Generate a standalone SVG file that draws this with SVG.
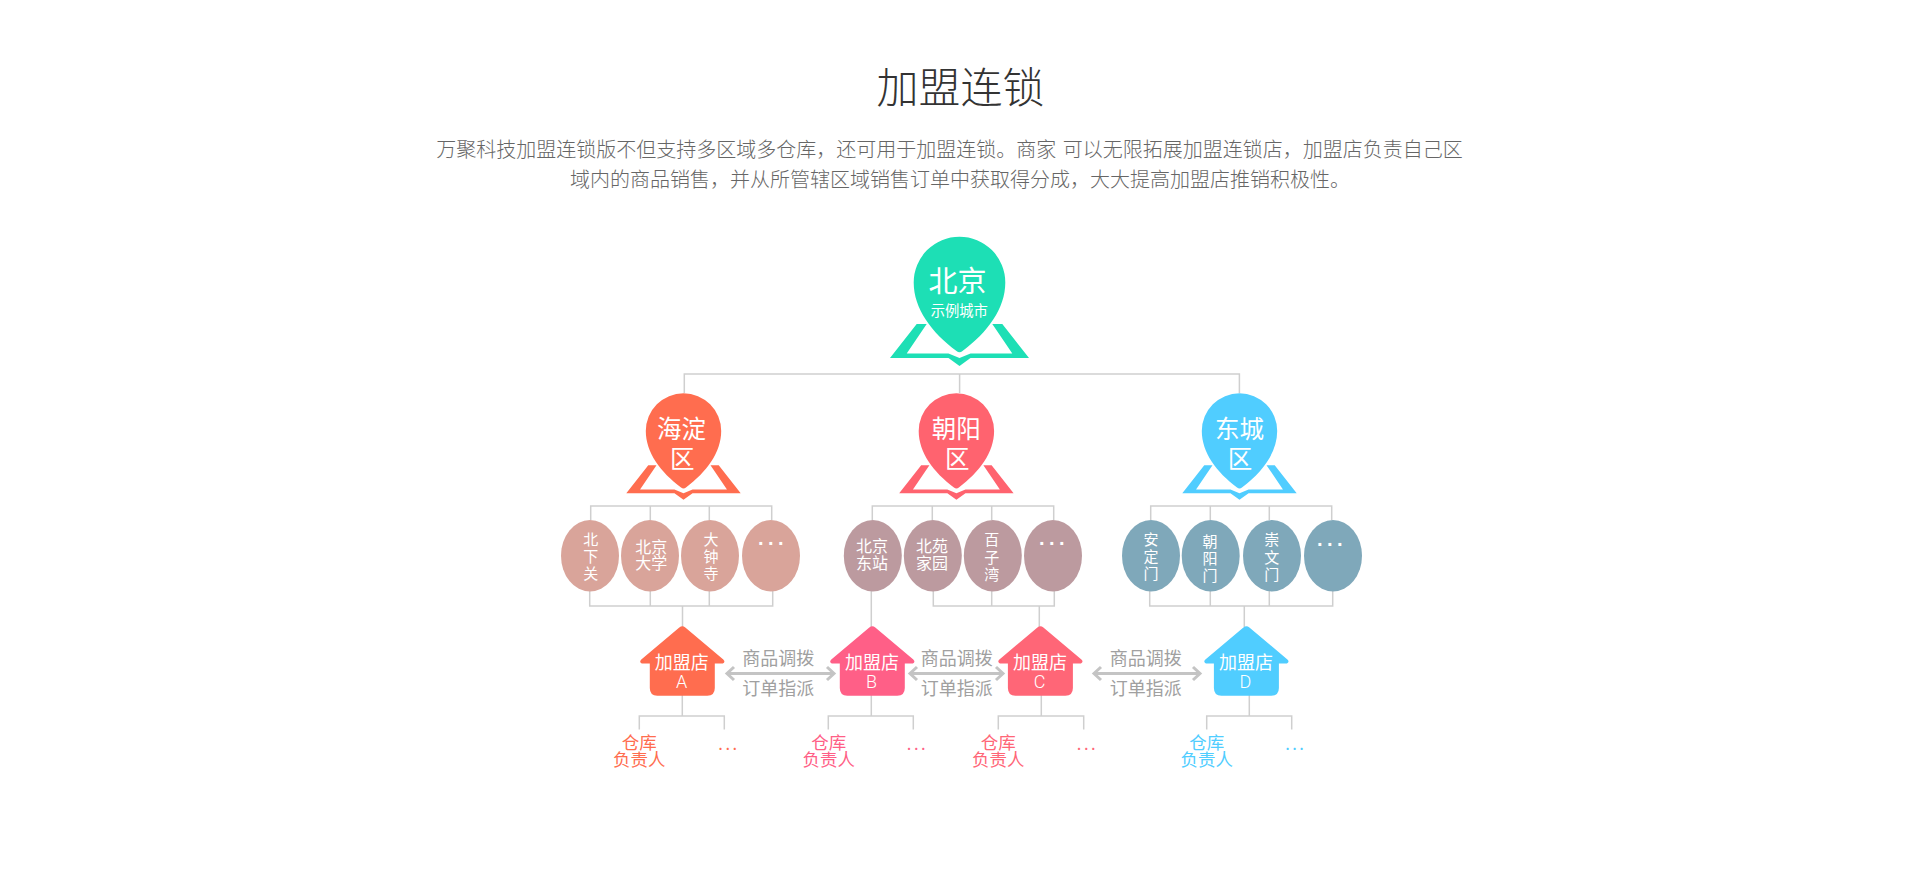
<svg xmlns="http://www.w3.org/2000/svg" width="1920" height="886" viewBox="0 0 1920 886">
<style>
text{font-family:"Noto Sans CJK SC","Noto Sans",sans-serif;text-anchor:middle;dominant-baseline:central}
.w{fill:#fff;font-weight:400}
.title{font-size:42px;fill:#333;font-weight:300}
.para{font-size:20px;fill:#666;font-weight:300;word-spacing:2px}
.d{font-size:24.5px}
.o{font-size:16px}
.v{font-size:15px}
.s{font-size:18px}
.l{font-size:18px;fill:#a0a0a0;font-weight:400}
.p{font-size:17.5px;font-weight:400}
.more{font-size:16.5px;font-weight:400;letter-spacing:2.5px}
.dots{font-family:"Liberation Sans",sans-serif;font-size:20px;font-weight:700;letter-spacing:3.3px;fill:#fff}
.mini{font-family:Roboto,"Liberation Sans",sans-serif;font-size:18px;font-weight:300;letter-spacing:1px}
.ln{fill:none;stroke:#cfcfcf;stroke-width:1.5}
.ar{fill:none;stroke:#c4c4c4;stroke-width:3;marker-start:url(#chev);marker-end:url(#chev)}
</style>
<defs>
<marker id="chev" markerUnits="userSpaceOnUse" markerWidth="12" markerHeight="18" refX="9" refY="8" orient="auto-start-reverse" overflow="visible"><path d="M2,1.5 L9,8 L2,14.5" fill="none" stroke="#c4c4c4" stroke-width="3"/></marker>
<g id="pin">
<path d="M-69.5,75.5 L-42.8,41.5 L-32.8,41.5 L-52.8,71 L-11,71 L0,75.6 L11,71 L52.8,71 L32.8,41.5 L42.8,41.5 L69.5,75.5 L11,75.5 L0,83.5 L-11,75.5Z"/>
<path d="M-45.8,0 A45.8,45.8 0 0 1 45.8,0 C45.8,26 28,50 3,68.5 Q0,71 -3,68.5 C-28,50 -45.8,26 -45.8,0Z"/>
</g>
<path id="house" d="M-3,1.5 Q0,-1 3,1.5 L41,33.5 Q43.5,36 40.5,37.5 L32.5,37.5 L32.5,62 Q32.5,69.7 25,69.7 L-25,69.7 Q-32.5,69.7 -32.5,62 L-32.5,37.5 L-40.5,37.5 Q-43.5,36 -41,33.5Z"/>
</defs>

<g id="header">
<text class="title" x="960.5" y="84.5">加盟连锁</text>
<text class="para" x="949.5" y="148" xml:space="preserve">万聚科技加盟连锁版不但支持多区域多仓库，还可用于加盟连锁。商家 可以无限拓展加盟连锁店，加盟店负责自己区</text>
<text class="para" x="960" y="178">域内的商品销售，并从所管辖区域销售订单中获取得分成，大大提高加盟店推销积极性。</text>
</g>

<g id="connectors">
<path class="ln" d="M684.3,393V374H1239.4V393M959.6,374V393"/>
<path class="ln" d="M590.7,520V506H771.7V520M650.3,506V520M709.3,506V520"/>
<path class="ln" d="M872.3,520V506H1053.7V520M932.3,506V520M991.7,506V520"/>
<path class="ln" d="M1150.7,520V506H1331.7V520M1210.3,506V520M1269.3,506V520"/>
<path class="ln" d="M589.7,590V606H772.7V590M650.3,590V606M709.3,590V606M682.5,606V627"/>
<path class="ln" d="M871.3,590V627"/>
<path class="ln" d="M933.3,590V606H1054.3V590M991.7,590V606M1039.3,606V627"/>
<path class="ln" d="M1149.7,590V606H1332.7V590M1210.3,590V606M1269.3,590V606M1244.3,606V627"/>
<path class="ln" d="M682.3,695V716M639.3,729.5V716H724.3V729.5"/>
<path class="ln" d="M871.3,695V716M828.3,729.5V716H913.3V729.5"/>
<path class="ln" d="M1041.3,695V716M998.3,729.5V716H1083.7V729.5"/>
<path class="ln" d="M1249.3,695V716M1206.7,729.5V716H1291.7V729.5"/>
<path class="ar" d="M727,673.5H834"/>
<path class="ar" d="M910,673.5H1003"/>
<path class="ar" d="M1094,673.5H1200"/>
</g>

<g id="node-beijing"><use href="#pin" transform="translate(959.5,282.5)" fill="#1ddfb5"/>
<text class="w" style="font-size:29px" x="957.5" y="279">北京</text><text class="w" style="font-size:14.3px" x="959.3" y="309.3">示例城市</text></g>

<g id="node-haidian"><use href="#pin" transform="translate(683.5,431) scale(.823)" fill="#ff6d4f"/>
<text class="w d" x="681.5" y="427">海淀</text><text class="w d" x="682.3" y="457.3">区</text></g>
<g id="node-chaoyang"><use href="#pin" transform="translate(956.4,431) scale(.823)" fill="#ff636f"/>
<text class="w d" x="956.2" y="427">朝阳</text><text class="w d" x="957.3" y="457.3">区</text></g>
<g id="node-dongcheng"><use href="#pin" transform="translate(1239.5,431) scale(.823)" fill="#50cdff"/>
<text class="w d" x="1239.5" y="427">东城</text><text class="w d" x="1240" y="457.3">区</text></g>

<g id="areas-haidian" fill="#d9a49a">
<g id="a-beixiaguan"><ellipse cx="590" cy="555.8" rx="29" ry="35.8"/><text class="w v"><tspan x="590.7" y="538">北</tspan><tspan x="590.7" y="555">下</tspan><tspan x="590.7" y="572">关</tspan></text></g>
<g id="a-beida"><ellipse cx="650" cy="555.8" rx="29" ry="35.8"/><text class="w o"><tspan x="651.2" y="545.7">北京</tspan><tspan x="651.2" y="562.3">大学</tspan></text></g>
<g id="a-dazhongsi"><ellipse cx="710" cy="555.8" rx="29" ry="35.8"/><text class="w v"><tspan x="711" y="537.7">大</tspan><tspan x="711" y="555">钟</tspan><tspan x="711" y="571.7">寺</tspan></text></g>
<g id="a-h-more"><ellipse cx="771" cy="555.8" rx="29" ry="35.8"/><text class="dots" x="773" y="543">···</text></g>
</g>
<g id="areas-chaoyang" fill="#bc9a9f">
<g id="a-bjz"><ellipse cx="872.8" cy="555.8" rx="29" ry="35.8"/><text class="w o"><tspan x="872" y="545">北京</tspan><tspan x="872" y="562.3">东站</tspan></text></g>
<g id="a-byjy"><ellipse cx="932.8" cy="555.8" rx="29" ry="35.8"/><text class="w o"><tspan x="932" y="545">北苑</tspan><tspan x="932" y="562.3">家园</tspan></text></g>
<g id="a-bzw"><ellipse cx="992.8" cy="555.8" rx="29" ry="35.8"/><text class="w v"><tspan x="991.7" y="538">百</tspan><tspan x="991.7" y="555.7">子</tspan><tspan x="991.7" y="573.3">湾</tspan></text></g>
<g id="a-c-more"><ellipse cx="1053" cy="555.8" rx="29" ry="35.8"/><text class="dots" x="1054" y="543">···</text></g>
</g>
<g id="areas-dongcheng" fill="#7fa8ba">
<g id="a-adm"><ellipse cx="1151" cy="555.8" rx="29" ry="35.8"/><text class="w v"><tspan x="1151" y="537.7">安</tspan><tspan x="1151" y="555">定</tspan><tspan x="1151" y="572.3">门</tspan></text></g>
<g id="a-cym"><ellipse cx="1210.7" cy="555.8" rx="29" ry="35.8"/><text class="w v"><tspan x="1210" y="540">朝</tspan><tspan x="1210" y="556.7">阳</tspan><tspan x="1210" y="574">门</tspan></text></g>
<g id="a-cwm"><ellipse cx="1272" cy="555.8" rx="29" ry="35.8"/><text class="w v"><tspan x="1271.7" y="538">崇</tspan><tspan x="1271.7" y="556">文</tspan><tspan x="1271.7" y="573.3">门</tspan></text></g>
<g id="a-d-more"><ellipse cx="1333" cy="555.8" rx="29" ry="35.8"/><text class="dots" x="1332" y="544">···</text></g>
</g>

<g id="store-a"><use href="#house" transform="translate(682.3,626)" fill="#ff6d4f"/>
<text class="w s" x="681.7" y="660.5">加盟店</text><text class="w mini" x="682" y="681">A</text></g>
<g id="store-b"><use href="#house" transform="translate(872.3,626)" fill="#ff5f87"/>
<text class="w s" x="872" y="660.5">加盟店</text><text class="w mini" x="872" y="681">B</text></g>
<g id="store-c"><use href="#house" transform="translate(1040.4,626)" fill="#ff6677"/>
<text class="w s" x="1040" y="660.5">加盟店</text><text class="w mini" x="1040" y="681">C</text></g>
<g id="store-d"><use href="#house" transform="translate(1246.4,626)" fill="#50cdff"/>
<text class="w s" x="1246" y="660.5">加盟店</text><text class="w mini" x="1246" y="681">D</text></g>

<g id="flow-labels">
<text class="l" x="778.3" y="656.7">商品调拨</text><text class="l" x="778.3" y="686.7">订单指派</text>
<text class="l" x="956.7" y="656.7">商品调拨</text><text class="l" x="956.7" y="686.7">订单指派</text>
<text class="l" x="1145.7" y="656.7">商品调拨</text><text class="l" x="1145.7" y="686.7">订单指派</text>
</g>

<g id="staff-a" fill="#ff6d4f"><text class="p"><tspan x="639.3" y="740.7">仓库</tspan><tspan x="639.3" y="757.8">负责人</tspan></text><text class="more" x="729" y="743">...</text></g>
<g id="staff-b" fill="#ff5f87"><text class="p"><tspan x="828.7" y="740.7">仓库</tspan><tspan x="828.7" y="757.8">负责人</tspan></text><text class="more" x="917.5" y="743">...</text></g>
<g id="staff-c" fill="#ff6677"><text class="p"><tspan x="998.3" y="740.7">仓库</tspan><tspan x="998.3" y="757.8">负责人</tspan></text><text class="more" x="1087.5" y="743">...</text></g>
<g id="staff-d" fill="#50cdff"><text class="p"><tspan x="1206.7" y="740.7">仓库</tspan><tspan x="1206.7" y="757.8">负责人</tspan></text><text class="more" x="1295.8" y="743">...</text></g>
</svg>
